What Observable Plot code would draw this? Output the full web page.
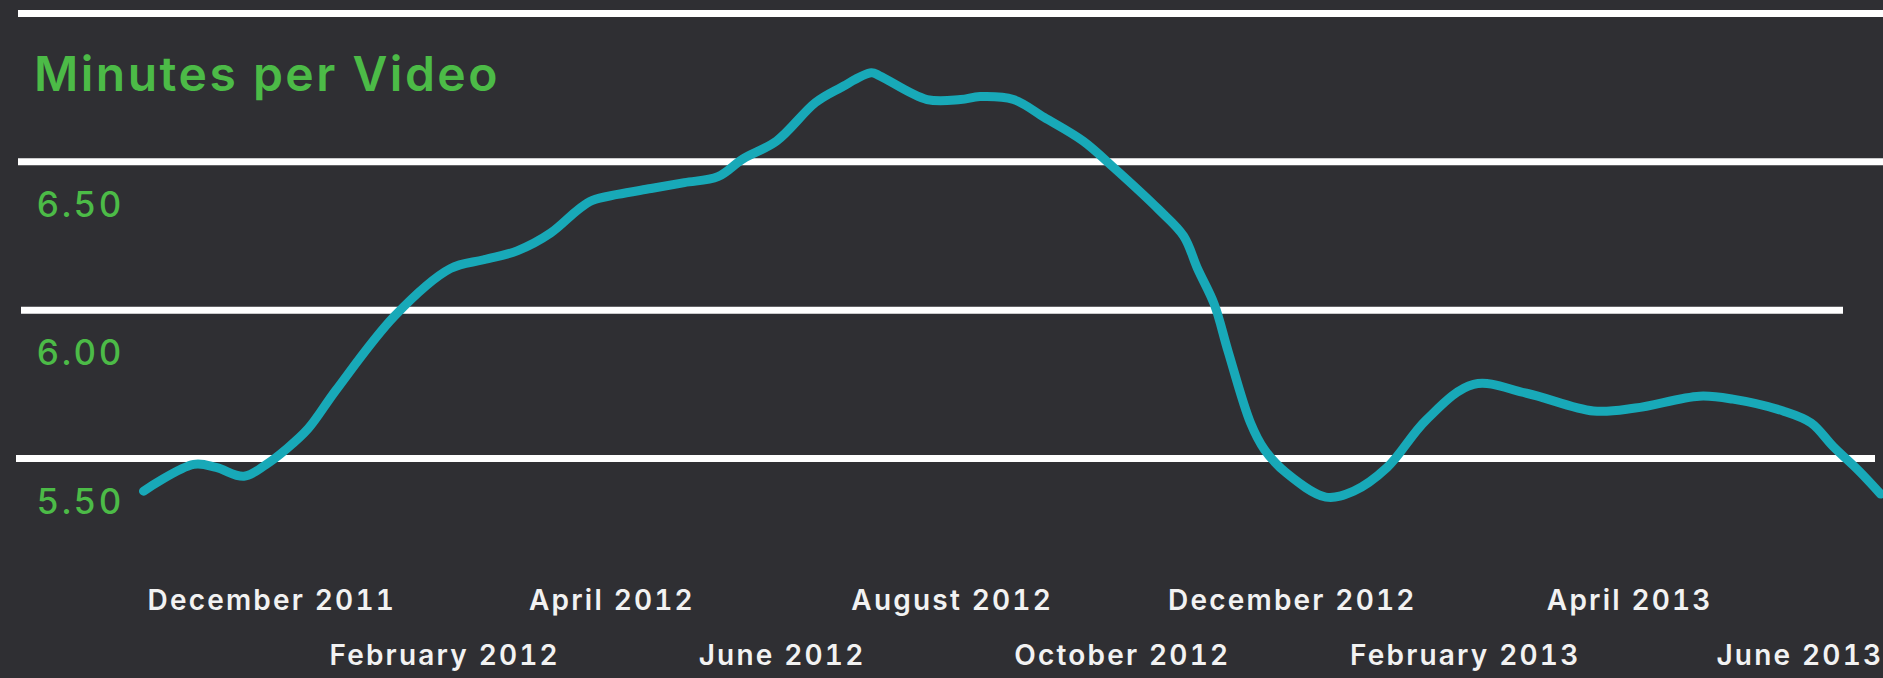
<!DOCTYPE html>
<html>
<head>
<meta charset="utf-8">
<script src="https://cdn.jsdelivr.net/npm/d3@7"></script>
<script src="https://cdn.jsdelivr.net/npm/@observablehq/plot@0.6"></script>
<style>
  html, body { margin: 0; padding: 0; background: #2f2f33; }
  #wrap { position: relative; width: 1883px; height: 678px; overflow: hidden; background: #2f2f33; }
  #title { position: absolute; left: 34px; top: 44px; margin: 0; font-family: Inter, "Open Sans", sans-serif; font-weight: 600; font-size: 48px; color: #4cbb47; letter-spacing: 2.5px; z-index: 2; }
  #chart svg g[aria-label="x-axis tick label"] text { letter-spacing: 2.2px; }
  #chart svg g[aria-label="y-axis tick label"] text { letter-spacing: 2.5px; }
</style>
</head>
<body>
<div id="wrap">
  <h1 id="title">Minutes per Video</h1>
  <div id="chart"></div>
</div>
<script>
// Data
const dates = [
  "2011-10-16","2011-11-03","2011-11-11","2011-11-21","2011-11-29","2011-12-06","2011-12-14","2011-12-24",
  "2012-01-14","2012-02-03","2012-02-15","2012-02-27","2012-03-10","2012-03-20","2012-03-25","2012-04-03",
  "2012-04-15","2012-04-27","2012-05-09","2012-05-18","2012-05-30","2012-06-13","2012-06-22","2012-07-03",
  "2012-07-06","2012-07-23","2012-08-04","2012-08-11","2012-08-23","2012-09-03","2012-09-17","2012-09-28",
  "2012-10-14","2012-10-23","2012-10-28","2012-11-03","2012-11-08","2012-11-16","2012-11-21","2012-11-29",
  "2012-12-13","2012-12-23","2013-01-04","2013-01-18","2013-02-04","2013-02-23","2013-03-19","2013-04-03",
  "2013-04-26","2013-05-08","2013-05-26","2013-06-05","2013-06-13","2013-06-22","2013-06-30"
];
const minutes = [
  5.39, 5.48, 5.47, 5.44, 5.48, 5.53, 5.60, 5.73,
  5.98, 6.14, 6.17, 6.20, 6.26, 6.34, 6.37, 6.39,
  6.41, 6.43, 6.45, 6.51, 6.57, 6.70, 6.75, 6.80,
  6.79, 6.71, 6.71, 6.72, 6.71, 6.65, 6.57, 6.48,
  6.34, 6.25, 6.14, 6.02, 5.86, 5.62, 5.53, 5.45,
  5.37, 5.39, 5.47, 5.63, 5.75, 5.72, 5.66, 5.67,
  5.71, 5.70, 5.66, 5.62, 5.54, 5.46, 5.38
];
const yTicks = [5.5, 6.0, 6.5];
const gridValues = [5.5, 6.0, 6.5, 7.0];
const xTickLabels = [
  "2011-12-01","2012-02-01","2012-04-01","2012-06-01","2012-08-01",
  "2012-10-01","2012-12-01","2013-02-01","2013-04-01","2013-06-01"
];
const xDomain = ["2011-10-16", "2013-07-01"];

const parse = d3.utcParse("%Y-%m-%d");
const data = dates.map((d, i) => ({date: parse(d), value: minutes[i]}));
const ticks = xTickLabels.map(parse);
const row1 = ticks.filter((d, i) => i % 2 === 0);
const row2 = ticks.filter((d, i) => i % 2 === 1);

const green = "#4cbb47";
const teal = "#18a9b8";
const labelFont = "Inter, 'Open Sans', sans-serif";

const chart = Plot.plot({
  width: 1883,
  height: 678,
  marginLeft: 143,
  marginRight: 0,
  marginTop: 13,
  marginBottom: 220,
  style: {background: "transparent", fontFamily: labelFont, overflow: "visible"},
  x: {type: "utc", domain: xDomain.map(parse)},
  y: {domain: [5.5, 7.0]},
  marks: [
    Plot.ruleY(gridValues.filter(v => v >= 6.5), {stroke: "#ffffff", strokeWidth: 7, insetLeft: -125}),
    Plot.ruleY(gridValues.filter(v => v === 6.0), {stroke: "#ffffff", strokeWidth: 7, insetLeft: -122, insetRight: 40}),
    Plot.ruleY(gridValues.filter(v => v === 5.5), {stroke: "#ffffff", strokeWidth: 7, insetLeft: -127, insetRight: 8}),
    Plot.axisY(yTicks, {
      anchor: "left", tickSize: 0, tickPadding: 107, textAnchor: "start",
      dy: 44, fill: green, fontSize: 35, fontWeight: 500, tickFormat: d3.format(".2f"),
      label: null
    }),
    Plot.axisX(row1, {
      anchor: "bottom", tickSize: 0, tickPadding: 132, tickFormat: d3.utcFormat("%B %Y"),
      fill: "#f2f2f2", fontSize: 28, fontWeight: 600, label: null
    }),
    Plot.axisX(row2, {
      anchor: "bottom", tickSize: 0, tickPadding: 187, tickFormat: d3.utcFormat("%B %Y"),
      fill: "#f2f2f2", fontSize: 28, fontWeight: 600, label: null
    }),
    Plot.line(data, {x: "date", y: "value", stroke: teal, strokeWidth: 9, curve: "catmull-rom", strokeLinecap: "round", strokeLinejoin: "round"})
  ]
});
document.getElementById("chart").appendChild(chart);
</script>
</body>
</html>
